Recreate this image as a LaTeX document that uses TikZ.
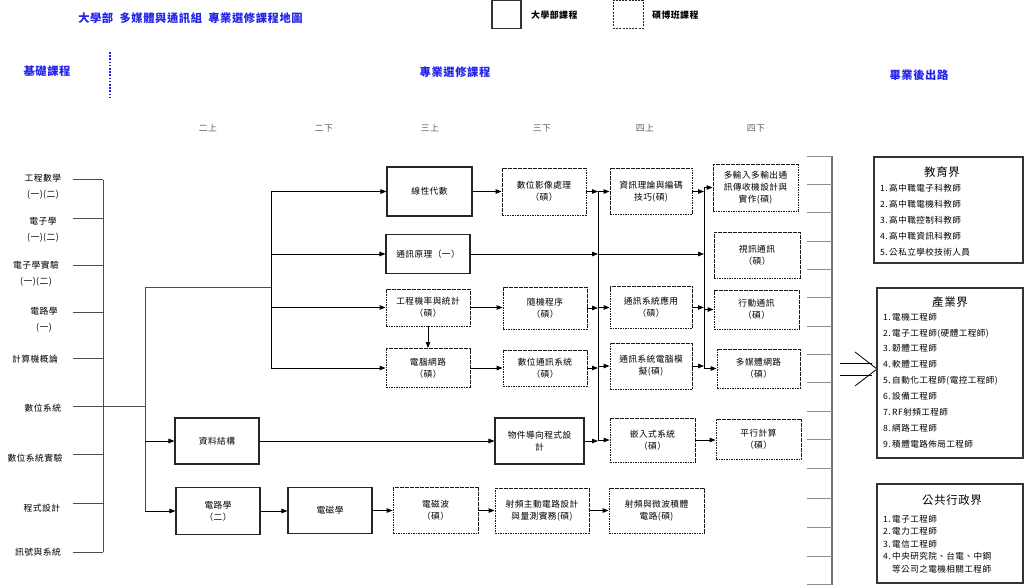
\documentclass[tikz,border=0pt]{standalone}
\usepackage{fontspec}
\setmainfont[LetterSpace=5]{Noto Sans CJK TC}
\usetikzlibrary{arrows.meta}
\definecolor{ttlblue}{RGB}{35,35,235}
\definecolor{semgray}{RGB}{90,90,90}
\newcommand{\crsfont}{\fontsize{8.7}{12}\selectfont}
\newcommand{\basfont}{\fontsize{8.8}{16}\selectfont}
\begin{document}
\begin{tikzpicture}[x=1pt,y=-1pt,
  ug/.style={draw=black!85, line width=1.1pt, align=center, font=\crsfont, inner sep=1pt},
  ms/.style={draw=black!90, line width=0.9pt, dash pattern=on 1.6pt off 0.9pt, align=center, font=\crsfont, inner sep=1pt},
  arr/.style={line width=0.9pt, -{Triangle[length=6pt,width=4.5pt]}},
  ln/.style={line width=0.9pt},
  bus/.style={line width=1pt, black!70},
  ttl/.style={font=\bfseries\fontsize{11.3}{13}\selectfont, text=ttlblue},
  sem/.style={font=\fontsize{8.8}{10}\selectfont, text=semgray},
  bas/.style={font=\basfont, align=center, inner sep=0pt},
  cbox/.style={draw=black!80, line width=1.2pt},
  ctitle/.style={font=\fontsize{11.5}{13}\selectfont},
  citem/.style={font=\fontsize{8.6}{15.9}\selectfont, align=left, inner sep=0pt, anchor=west},
  tick/.style={line width=0.8pt, black!45}
]
\useasboundingbox (0,0) rectangle (1024,585);

% ---------- header ----------
\node[ttl] (title) at (190.5,18) {大學部\; 多媒體與通訊組\; 專業選修課程地圖};
\node[draw=black!80, line width=1.1pt, minimum width=29pt, minimum height=28pt, inner sep=0pt] (lgug) at (506.5,14.5) {};
\node[font=\bfseries\fontsize{8.9}{10}\selectfont, anchor=west, inner sep=0pt] (lgugt) at (531,15) {大學部課程};
\node[draw=black!85, line width=0.9pt, dash pattern=on 2pt off 1.2pt, minimum width=30pt, minimum height=28pt, inner sep=0pt] (lgms) at (628,14.5) {};
\node[font=\bfseries\fontsize{8.9}{10}\selectfont, anchor=west, inner sep=0pt] (lgmst) at (652,15) {碩博班課程};

\node[ttl] (hbase) at (47,71) {基礎課程};
\coordinate (dtop) at (110,52);
\coordinate (dbot) at (110,98);
\draw[ttlblue, line width=1.6pt, dash pattern=on 1.6pt off 1.6pt] (dtop) -- (dbot);
\node[ttl] (hpro) at (455,72) {專業選修課程};
\node[ttl] (hcar) at (919,75) {畢業後出路};

\node[sem] (s1) at (208,128) {二上};
\node[sem] (s2) at (324,128) {二下};
\node[sem] (s3) at (430,128) {三上};
\node[sem] (s4) at (542,128) {三下};
\node[sem] (s5) at (645,128) {四上};
\node[sem] (s6) at (756,128) {四下};

% ---------- basic courses ----------
\node[bas] (b1) at (43,187) {工程數學\\(一)(二)};
\node[bas] (b2) at (43,230) {電子學\\(一)(二)};
\node[bas] (b3) at (36,273.5) {電子學實驗\\(一)(二)};
\node[bas] (b4) at (44,319.5) {電路學\\(一)};
\node[bas] (b5) at (35,359) {計算機概論};
\node[bas] (b6) at (43,408) {數位系統};
\node[bas] (b7) at (35,458) {數位系統實驗};
\node[bas] (b8) at (42,508) {程式設計};
\node[bas] (b9) at (38,552) {訊號與系統};

\coordinate (busT) at (103,180);
\coordinate (busB) at (103,552);
\foreach \i/\y in {1/180,2/219,3/265,4/312,5/358,6/406,7/454,8/503,9/552}
  \coordinate (t\i) at (73,\y);
\draw[bus] (busT) -- (busB);
\foreach \i in {1,2,3,4,5,7,8,9}
  \draw[bus] (t\i) -- (t\i -| busT);

\coordinate (j1) at (145,406);
\coordinate (j2) at (145,287);
\coordinate (j3) at (271,287);
\draw[bus] (t6) -- (j1);

% ---------- course boxes ----------
\node[ug,minimum width=85pt,minimum height=49pt] (la) at (429.5,191.5) {線性代數};
\node[ug,minimum width=84pt,minimum height=39pt] (cp) at (428,254) {通訊原理（一）};
\node[ms,minimum width=84pt,minimum height=37pt] (ps) at (428,307.5) {工程機率與統計\\（碩）};
\node[ms,minimum width=84pt,minimum height=39pt] (cn) at (428,368) {電腦網路\\（碩）};

\node[ms,minimum width=84pt,minimum height=47pt] (dip) at (544,191.5) {數位影像處理\\（碩）};
\node[ms,minimum width=84pt,minimum height=42pt] (rp) at (545,308) {隨機程序\\（碩）};
\node[ms,minimum width=84pt,minimum height=36pt] (dcs) at (545,368) {數位通訊系統\\（碩）};
\node[ug,minimum width=89pt,minimum height=46pt] (oop) at (539.5,441) {物件導向程式設\\計};

\node[ms,minimum width=82pt,minimum height=46pt] (it) at (651,191.5) {資訊理論與編碼\\技巧(碩)};
\node[ms,minimum width=82pt,minimum height=42pt] (csa) at (651,307.5) {通訊系統應用\\（碩）};
\node[ms,minimum width=82pt,minimum height=46pt] (csm) at (651,366) {通訊系統電腦模\\擬(碩)};
\node[ms,minimum width=85pt,minimum height=44pt] (emb) at (652.5,440) {嵌入式系統\\（碩）};

\node[ms,minimum width=85pt,minimum height=47pt] (mimo) at (755.5,187.5) {多輸入多輸出通\\訊傳收機設計與\\實作(碩)};
\node[ms,minimum width=86pt,minimum height=46pt] (vc) at (757,255) {視訊通訊\\（碩）};
\node[ms,minimum width=85pt,minimum height=39pt] (mc) at (756.5,309.5) {行動通訊\\（碩）};
\node[ms,minimum width=83pt,minimum height=39pt] (mm) at (758.5,368.5) {多媒體網路\\（碩）};
\node[ms,minimum width=85pt,minimum height=40pt] (pc) at (758.5,439.5) {平行計算\\（碩）};

\node[ug,minimum width=84pt,minimum height=46pt] (ds) at (217,441) {資料結構};
\node[ug,minimum width=84pt,minimum height=47pt] (c2) at (218,511) {電路學\\（二）};
\node[ug,minimum width=84pt,minimum height=46pt] (em) at (330,510.5) {電磁學};
\node[ms,minimum width=85pt,minimum height=46pt] (emw) at (435.5,510.5) {電磁波\\（碩）};
\node[ms,minimum width=94pt,minimum height=45pt] (rfa) at (542,510.5) {射頻主動電路設計\\與量測實務(碩)};
\node[ms,minimum width=95pt,minimum height=45pt] (rfm) at (656.5,510.5) {射頻與微波積體\\電路(碩)};

% ---------- left tree ----------
\draw[bus] (j2) -- (j2 |- c2);
\draw[arr] (j2 |- ds) -- (ds);
\draw[arr] (j2 |- c2) -- (c2);
\draw[bus] (j2) -- (j3);
\draw[ln] (j3 |- la) -- (j3 |- cn);
\draw[arr] (j3 |- la) -- (la);
\draw[arr] (j3 |- cp) -- (cp);
\draw[arr] (j3 |- ps) -- (ps);
\draw[arr] (j3 |- cn) -- (cn);
\draw[arr] (ps) -- (cn);

% ---------- chains ----------
\draw[arr] (la) -- (la -| dip.west);
\draw[arr] (ps) -- (ps -| rp.west);
\draw[arr] (cn) -- (cn -| dcs.west);
\draw[arr] (ds) -- (ds -| oop.west);
\draw[arr] (c2) -- (c2 -| em.west);
\draw[arr] (em) -- (emw);
\draw[arr] (emw) -- (rfa);
\draw[arr] (rfa) -- (rfm);

\coordinate (bus1) at (598,0);
\coordinate (bus2) at (704,0);
\draw[ln] (bus1 |- it) -- (bus1 |- oop);
\draw[ln] (bus2 |- mimo) -- (bus2 |- mm);

\draw[arr] (dip) -- (dip -| bus1);
\draw[arr] (cp) -- (cp -| bus1);
\draw[arr] (rp) -- (rp -| bus1);
\draw[arr] (dcs) -- (dcs -| bus1);
\draw[arr] (oop) -- (oop -| bus1);
\draw[arr] (bus1 |- it) -- (it);
\draw[arr] (bus1 |- csa) -- (csa);
\draw[arr] (bus1 |- csm) -- (csm);
\draw[arr] (bus1 |- emb) -- (emb);
\draw[arr] (cp -| bus1) -- (cp -| bus2);

\draw[arr] (it) -- (it -| bus2);
\draw[arr] (csa) -- (csa -| bus2);
\draw[arr] (csm) -- (csm -| bus2);
\draw[arr] (bus2 |- mimo) -- (mimo);
\draw[arr] (bus2 |- mc) -- (mc);
\draw[arr] (bus2 |- mm) -- (mm);
\draw[arr] (emb) -- (emb -| pc.west);

% ---------- right bracket ----------
\coordinate (rbT) at (832,156);
\coordinate (rbB) at (832,585);
\draw[line width=1.2pt, black!55] (rbT) -- (rbB);
\foreach \y in {156,184,212,241,269,297,326,354,382,411,439,468,498,527,556,584}
  \draw[tick] (807,\y) -- (832,\y);

% double arrow
\coordinate (da1) at (840,363);
\coordinate (da2) at (872,363);
\coordinate (da3) at (840,375);
\coordinate (da4) at (872,375);
\coordinate (dv1) at (855,352);
\coordinate (dv2) at (877,369);
\coordinate (dv3) at (855,386);
\draw[line width=0.8pt] (da1) -- (da2);
\draw[line width=0.8pt] (da3) -- (da4);
\draw[line width=0.8pt] (dv1) -- (dv2) -- (dv3);

% ---------- career boxes ----------
\node[cbox, minimum width=149pt, minimum height=106pt] (edu) at (948.5,210) {};
\node[ctitle] (edut) at (942,172) {教育界};
\node[citem] (edul) at (880,220) {1.\,高中職電子科教師\\2.\,高中職電機科教師\\3.\,高中職控制科教師\\4.\,高中職資訊科教師\\5.\,公私立學校技術人員};

\node[cbox, minimum width=146pt, minimum height=170pt] (ind) at (950,373) {};
\node[ctitle] (indt) at (950,302) {產業界};
\node[citem] (indl) at (883,380.5) {1.\,電機工程師\\2.\,電子工程師(硬體工程師)\\3.\,韌體工程師\\4.\,軟體工程師\\5.\,自動化工程師(電控工程師)\\6.\,設備工程師\\7.\,RF射頻工程師\\8.\,網路工程師\\9.\,積體電路佈局工程師};

\node[cbox, minimum width=146pt, minimum height=99pt] (pub) at (950,533.5) {};
\node[ctitle] (pubt) at (952,500) {公共行政界};
\node[citem, font=\fontsize{8.6}{12.5}\selectfont] (publ) at (883,544) {1.\,電子工程師\\2.\,電力工程師\\3.\,電信工程師\\4.\,中央研究院、台電、中鋼\\\hspace*{9pt}等公司之電機相關工程師};
\end{tikzpicture}
\end{document}
